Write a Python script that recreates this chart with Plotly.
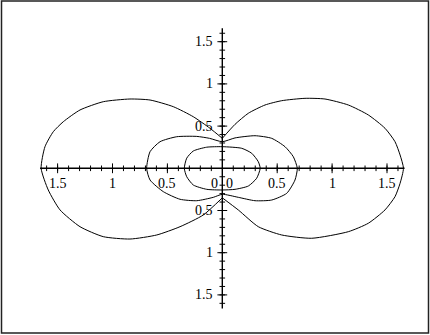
import numpy as np
import plotly.graph_objects as go

# outer curve, split at the two cusps on the y axis (right lobe, left lobe)
outer_right_x = [0.0, 0.116, 0.237, 0.389, 0.541, 0.753, 0.935, 1.148, 1.330, 1.482, 1.573, 1.619, 1.650,
                 1.619, 1.573, 1.482, 1.330, 1.148, 0.814, 0.541, 0.328, 0.146, 0.0]
outer_right_y = [0.355, 0.521, 0.652, 0.750, 0.801, 0.829, 0.821, 0.750, 0.632, 0.474, 0.315, 0.158, 0.0,
                 -0.178, -0.336, -0.493, -0.651, -0.751, -0.829, -0.790, -0.692, -0.494, -0.350]
outer_left_x = [0.0, -0.112, -0.264, -0.446, -0.658, -0.841, -1.084, -1.296, -1.448, -1.539, -1.615, -1.650,
                -1.585, -1.478, -1.296, -1.084, -0.841, -0.597, -0.385, -0.173, 0.0]
outer_left_y = [0.355, 0.474, 0.611, 0.730, 0.809, 0.821, 0.789, 0.691, 0.552, 0.434, 0.256, 0.0,
                -0.257, -0.493, -0.692, -0.810, -0.838, -0.790, -0.692, -0.553, -0.350]

middle_x = [0.683, 0.647, 0.571, 0.450, 0.298, 0.116, 0.0, -0.116, -0.233, -0.415, -0.567, -0.658, -0.689,
            -0.658, -0.537, -0.385, -0.233, -0.082, 0.0, 0.146, 0.298, 0.450, 0.587, 0.662, 0.683]
middle_y = [0.0, 0.137, 0.256, 0.355, 0.386, 0.360, 0.315, 0.355, 0.378, 0.374, 0.315, 0.197, 0.0,
            -0.139, -0.277, -0.367, -0.384, -0.344, -0.308, -0.344, -0.384, -0.376, -0.296, -0.139, 0.0]

inner_x = [0.345, 0.328, 0.268, 0.177, 0.0, -0.142, -0.264, -0.324, -0.346,
           -0.324, -0.264, -0.142, 0.0, 0.116, 0.237, 0.313, 0.345]
inner_y = [0.0, 0.078, 0.178, 0.237, 0.256, 0.250, 0.205, 0.120, 0.0,
           -0.100, -0.198, -0.249, -0.257, -0.249, -0.210, -0.118, 0.0]

major_ticks = [-1.5, -1.0, -0.5, 0.5, 1.0, 1.5]
tick_labels = ["1.5", "1", "0.5", "0.5", "1", "1.5"]
axis_extent = 1.66

W, H = 430, 335
ox, oy = 222.3, 168.3  # origin in pixels
sx, sy = 109.8, 84.4   # pixels per unit

fig = go.Figure()

line = dict(color="black", width=1.0, shape="spline", smoothing=0.6)
for xs, ys in [(outer_right_x, outer_right_y), (outer_left_x, outer_left_y),
               (middle_x, middle_y), (inner_x, inner_y)]:
    fig.add_trace(go.Scatter(x=xs, y=ys, mode="lines", line=line, hoverinfo="skip"))

# axes through the origin
ax = dict(color="black", width=1.4)
fig.add_trace(go.Scatter(x=[-axis_extent, axis_extent], y=[0, 0], mode="lines", line=ax))
fig.add_trace(go.Scatter(x=[0, 0], y=[-axis_extent, axis_extent], mode="lines", line=ax))

minor = np.round(np.arange(-1.6, 1.61, 0.1), 2)
minor = minor[minor != 0]
tick_line = dict(color="black", width=1)
fig.add_trace(go.Scatter(x=minor, y=np.zeros_like(minor), mode="markers",
                         marker=dict(symbol="line-ns", size=4, line=tick_line)))
fig.add_trace(go.Scatter(x=np.zeros_like(minor), y=minor, mode="markers",
                         marker=dict(symbol="line-ew", size=4, line=tick_line)))
fig.add_trace(go.Scatter(x=major_ticks, y=np.zeros(len(major_ticks)), mode="markers",
                         marker=dict(symbol="line-ns", size=7, line=tick_line)))
fig.add_trace(go.Scatter(x=np.zeros(len(major_ticks)), y=major_ticks, mode="markers",
                         marker=dict(symbol="line-ew", size=7, line=tick_line)))

font = dict(family="Liberation Serif", size=14, color="black")
for v, t in zip(major_ticks, tick_labels):
    fig.add_annotation(x=v, y=0, text=t, showarrow=False, yshift=-15, font=font)
    fig.add_annotation(x=0, y=v, text=t, showarrow=False, xanchor="right", xshift=-7, font=font)
fig.add_annotation(x=0, y=0, text="0", showarrow=False, xanchor="right", xshift=-2, yshift=-15, font=font)
fig.add_annotation(x=0, y=0, text="0", showarrow=False, xanchor="left", xshift=2, yshift=-15, font=font)

# frame around the picture
fig.add_shape(type="rect", xref="paper", yref="paper",
              x0=1.5 / W, x1=428.5 / W, y0=1 - 333 / H, y1=1 - 1 / H,
              line=dict(color="#222", width=1.5))

fig.update_layout(
    width=W, height=H, margin=dict(l=0, r=0, t=0, b=0),
    paper_bgcolor="white", plot_bgcolor="white", showlegend=False,
    xaxis=dict(range=[-ox / sx, (W - ox) / sx], visible=False),
    yaxis=dict(range=[-(H - oy) / sy, oy / sy], visible=False),
)
fig.write_html("out.html", config={"displayModeBar": False},
               post_script="document.body.style.margin='0';")
